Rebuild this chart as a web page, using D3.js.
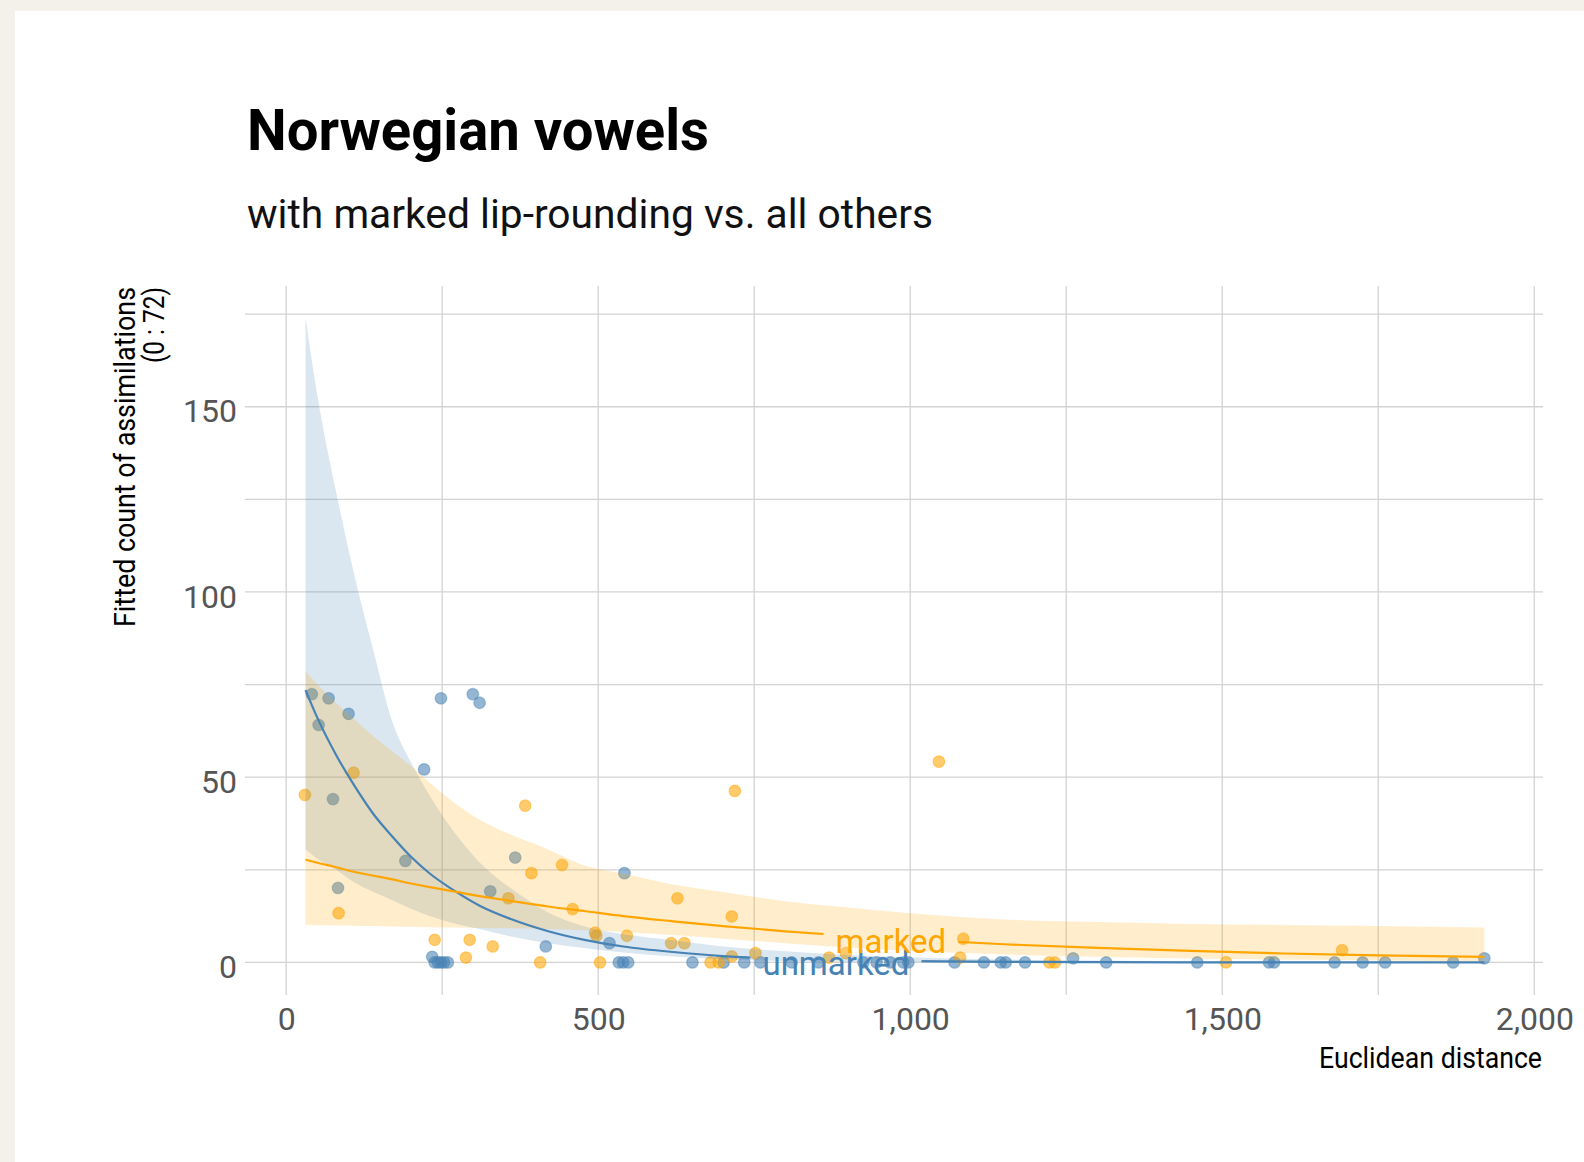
<!DOCTYPE html>
<html>
<head>
<meta charset="utf-8">
<script src="https://cdn.jsdelivr.net/npm/d3@7"></script>
<style>
body { margin: 0; background: #f4f1ea; }
svg { display: block; }
text { font-family: Roboto, "Open Sans", sans-serif; }
</style>
</head>
<body>
<div class="chart"></div>
<script>
// fitted curves, sampled along the x axis
const fitX = [31, 50, 80, 110, 140, 170, 200, 230, 270, 310, 360, 420, 480, 540, 620, 700, 800, 900, 1000, 1150, 1300, 1450, 1600, 1750, 1920];

const unmarkedFit = [73.5, 66, 56, 47.5, 40, 34, 28.5, 24, 19.3, 15.3, 11.7, 8.4, 6.0, 4.3, 2.8, 1.7, 1.0, 0.6, 0.35, 0.15, 0.07, 0.03, 0.01, 0, 0];
const unmarkedHi = [174, 153, 127, 104, 84, 65, 54, 45, 35, 27, 20, 13.5, 9.6, 7.6, 6.0, 4.3, 3.0, 2.0, 1.4, 0.8, 0.5, 0.3, 0.2, 0.1, 0.1];
const unmarkedLo = [30.5, 28, 25, 21.5, 19, 16.8, 14.5, 12.5, 10.5, 9.0, 7.0, 5.2, 3.8, 2.7, 1.6, 0.85, 0.4, 0.2, 0.1, 0, 0, 0, 0, 0, 0];

const markedFit = [27.7, 26.9, 25.7, 24.4, 23.4, 22.4, 21.3, 20.3, 19.1, 17.9, 16.6, 15.1, 13.8, 12.5, 11.1, 9.8, 8.4, 7.2, 6.2, 4.9, 3.9, 3.1, 2.4, 1.9, 1.5];
const markedHi = [78.5, 75, 70, 65.5, 61, 57, 53, 48.5, 43, 38.5, 34.5, 30.5, 26, 24, 21, 19, 16.5, 14.8, 13.3, 11.6, 10.9, 10.4, 10.1, 9.8, 9.4];
const markedLo = [10.1, 10.1, 10.0, 9.9, 9.8, 9.7, 9.6, 9.5, 9.4, 9.3, 9.2, 9.0, 8.7, 8.2, 7.4, 6.4, 5.2, 4.0, 3.1, 2.2, 1.5, 1.05, 0.75, 0.5, 0.3];

// observed counts
const unmarkedX = [41, 52, 68, 75, 83, 100, 191, 221, 234, 238, 243, 248, 253, 259, 248, 299, 310, 327, 367, 416, 518, 533, 540, 548, 542, 651, 701, 734, 760, 810, 853, 925, 946, 968, 989, 997, 1071, 1118, 1145, 1153, 1184, 1261, 1314, 1460, 1575, 1583, 1680, 1725, 1761, 1870, 1920];
const unmarkedY = [72.4, 64.1, 71.3, 44.1, 20.1, 67.1, 27.4, 52.1, 1.5, 0, 0, 0, 0, 0, 71.3, 72.4, 70.1, 19.2, 28.3, 4.3, 5.2, 0, 0, 0, 24.1, 0, 0, 0, 0, 0, 0, 0, 0, 0, 0, 0, 0, 0, 0, 0, 0, 1.1, 0, 0, 0, 0, 0, 0, 0, 0, 1.1];

const markedX = [30, 108, 84, 383, 442, 393, 356, 459, 495, 497, 546, 627, 617, 638, 238, 294, 331, 288, 407, 503, 680, 693, 714, 719, 714, 752, 870, 897, 1046, 1085, 1080, 1223, 1232, 1506, 1692];
const markedY = [45.2, 51.2, 13.3, 42.3, 26.3, 24.1, 17.3, 14.4, 8.0, 7.2, 7.2, 17.3, 5.2, 5.2, 6.1, 6.1, 4.3, 1.3, 0, 0, 0, 0, 12.4, 46.3, 1.6, 2.5, 1.3, 2.5, 54.2, 6.4, 1.3, 0, 0, 0, 3.3];

const xTicks = [0, 500, 1000, 1500, 2000];
const yTicks = [0, 50, 100, 150];

const W = 1584, H = 1162;
const panel = {left: 245, right: 1543, top: 286, bottom: 995};

const svg = d3.select(".chart").append("svg")
    .attr("width", W)
    .attr("height", H);

svg.append("rect").attr("width", W).attr("height", H).attr("fill", "#f4f1ea");
svg.append("rect")
    .attr("x", 15).attr("y", 11)
    .attr("width", W - 15).attr("height", H - 11)
    .attr("fill", "#ffffff");

const xScale = d3.scaleLinear()
    .domain([-66, 2014])
    .range([panel.left, panel.right]);

const yScale = d3.scaleLinear()
    .domain([-8.8, 182.6])
    .range([panel.bottom, panel.top]);

// titles
svg.append("text")
    .attr("x", 247).attr("y", 150)
    .attr("font-size", 58).attr("font-weight", 700)
    .attr("textLength", 462).attr("lengthAdjust", "spacingAndGlyphs")
    .attr("fill", "#000")
    .text("Norwegian vowels");

svg.append("text")
    .attr("x", 247).attr("y", 228)
    .attr("font-size", 41)
    .attr("textLength", 686).attr("lengthAdjust", "spacingAndGlyphs")
    .attr("fill", "#111")
    .text("with marked lip-rounding vs. all others");

// grid
const grid = svg.append("g")
    .attr("stroke", "#d3d3d3")
    .attr("stroke-width", 1.3);

grid.selectAll(".vgrid")
    .data(d3.range(0, 2001, 250))
    .join("line")
    .attr("x1", d => xScale(d)).attr("x2", d => xScale(d))
    .attr("y1", panel.top).attr("y2", panel.bottom);

grid.selectAll(".hgrid")
    .data(d3.range(0, 176, 25))
    .join("line")
    .attr("x1", panel.left).attr("x2", panel.right)
    .attr("y1", d => yScale(d)).attr("y2", d => yScale(d));

// axes
const xAxis = d3.axisBottom(xScale)
    .tickValues(xTicks)
    .tickFormat(d3.format(","))
    .tickSize(0)
    .tickPadding(12);

const yAxis = d3.axisLeft(yScale)
    .tickValues(yTicks)
    .tickSize(0)
    .tickPadding(8);

const gx = svg.append("g")
    .attr("transform", `translate(0, ${panel.bottom})`)
    .call(xAxis);

const gy = svg.append("g")
    .attr("transform", `translate(${panel.left}, 0)`)
    .call(yAxis);

[gx, gy].forEach(g => {
    g.select(".domain").remove();
    g.selectAll("text")
        .attr("font-family", "Roboto, 'Open Sans', sans-serif")
        .attr("font-size", 32)
        .attr("fill", "#555");
});
gy.selectAll("text").attr("dy", "0.47em");

svg.append("text")
    .attr("x", 1542).attr("y", 1068)
    .attr("text-anchor", "end")
    .attr("font-size", 29)
    .attr("textLength", 223).attr("lengthAdjust", "spacingAndGlyphs")
    .text("Euclidean distance");

svg.append("text")
    .attr("transform", "translate(135, 287) rotate(-90)")
    .attr("text-anchor", "end")
    .attr("font-size", 29)
    .attr("textLength", 340).attr("lengthAdjust", "spacingAndGlyphs")
    .text("Fitted count of assimilations");

svg.append("text")
    .attr("transform", "translate(164, 287) rotate(-90)")
    .attr("text-anchor", "end")
    .attr("font-size", 29)
    .attr("textLength", 76).attr("lengthAdjust", "spacingAndGlyphs")
    .text("(0 : 72)");

// series
const series = [
    {name: "unmarked", color: "steelblue", fit: unmarkedFit, lo: unmarkedLo, hi: unmarkedHi, px: unmarkedX, py: unmarkedY, labelX: 881},
    {name: "marked", color: "orange", fit: markedFit, lo: markedLo, hi: markedHi, px: markedX, py: markedY, labelX: 969}
];

// points
series.forEach(s => {
    svg.append("g").selectAll("circle")
        .data(s.px.map((d, i) => [d, s.py[i]]))
        .join("circle")
        .attr("cx", d => xScale(d[0]))
        .attr("cy", d => yScale(d[1]))
        .attr("r", 5.8)
        .attr("fill", s.color)
        .attr("fill-opacity", 0.58)
        .attr("stroke", s.color)
        .attr("stroke-opacity", 0.45)
        .attr("stroke-width", 1.2);
});

// confidence ribbons
series.forEach(s => {
    const area = d3.area()
        .x((d, i) => xScale(fitX[i]))
        .y0((d, i) => yScale(s.lo[i]))
        .y1((d, i) => yScale(s.hi[i]))
        .curve(d3.curveMonotoneX);
    svg.append("path")
        .datum(s.fit)
        .attr("d", area)
        .attr("fill", s.color)
        .attr("fill-opacity", 0.2);
});

// lines with labels sitting in a gap
const defs = svg.append("defs");
const linesG = svg.append("g");
const labelsG = svg.append("g");

const interp = (s, xv) => {
    const i = d3.bisectLeft(fitX, xv);
    const t = (xv - fitX[i - 1]) / (fitX[i] - fitX[i - 1]);
    return s.fit[i - 1] + t * (s.fit[i] - s.fit[i - 1]);
};

series.forEach(s => {
    const ly = yScale(interp(s, s.labelX));
    const label = labelsG.append("text")
        .attr("x", xScale(s.labelX))
        .attr("y", ly)
        .attr("dy", "0.46em")
        .attr("text-anchor", "middle")
        .attr("font-size", 33)
        .attr("fill", s.color)
        .text(s.name);
    const bb = label.node().getBBox();

    const mask = defs.append("mask").attr("id", "gap-" + s.name)
        .attr("maskUnits", "userSpaceOnUse")
        .attr("x", 0).attr("y", 0).attr("width", W).attr("height", H);
    mask.append("rect").attr("width", W).attr("height", H).attr("fill", "#fff");
    mask.append("rect")
        .attr("x", bb.x - 12).attr("y", bb.y - 4)
        .attr("width", bb.width + 24).attr("height", bb.height + 8)
        .attr("fill", "#000");

    const line = d3.line()
        .x((d, i) => xScale(fitX[i]))
        .y(d => yScale(d))
        .curve(d3.curveMonotoneX);

    linesG.append("path")
        .datum(s.fit)
        .attr("d", line)
        .attr("fill", "none")
        .attr("stroke", s.color)
        .attr("stroke-width", 2.2)
        .attr("mask", "url(#gap-" + s.name + ")");
});
</script>
</body>
</html>
